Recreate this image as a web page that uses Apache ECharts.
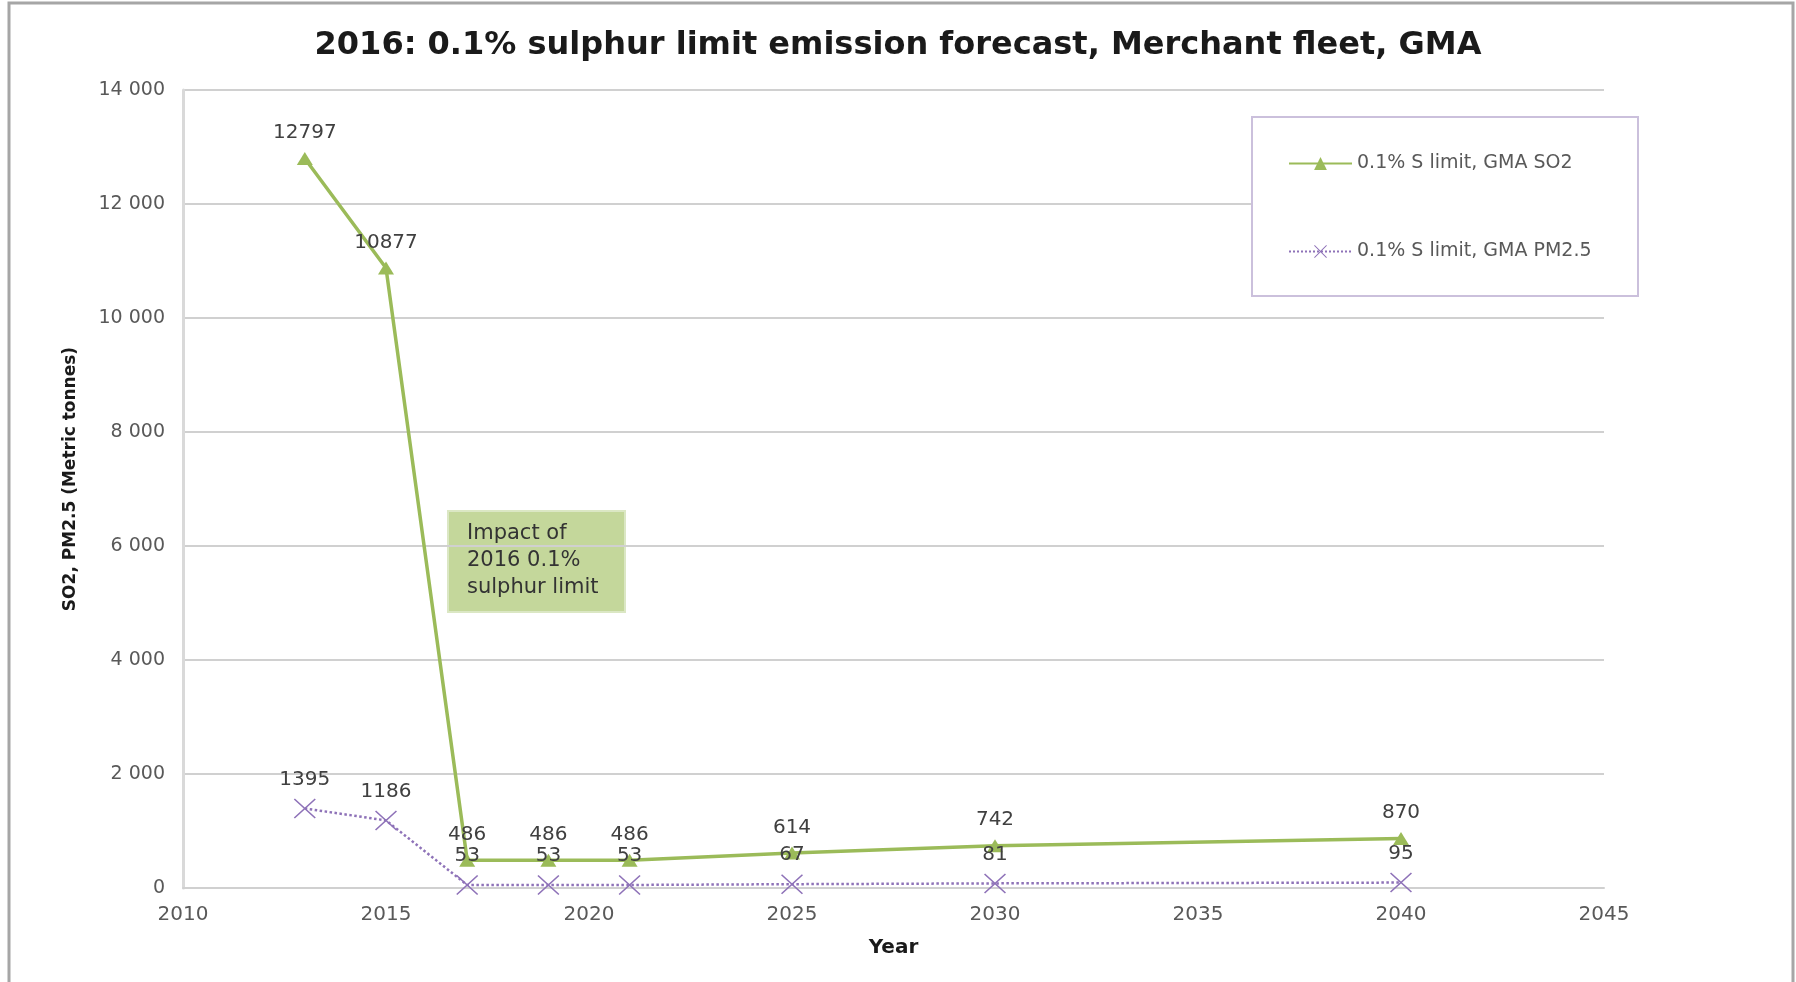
<!DOCTYPE html>
<html>
<head>
<meta charset="utf-8">
<script src="https://cdn.jsdelivr.net/npm/echarts@6/dist/echarts.min.js"></script>
<style>
  html, body { margin: 0; padding: 0; background: #fff; }
  #chart { width: 1796px; height: 982px; }
</style>
</head>
<body>
<div id="chart"></div>
<script>
const years = [2013, 2015, 2017, 2019, 2021, 2025, 2030, 2040]
const so2 = [12797, 10877, 486, 486, 486, 614, 742, 870]
const pm25 = [1395, 1186, 53, 53, 53, 67, 81, 95]
const seriesNames = ['0.1% S limit, GMA SO2', '0.1% S limit, GMA PM2.5']
const noteLines = ['Impact of', '2016 0.1%', 'sulphur limit']

const green = '#9bbb59'
const purple = '#8e72b8'
const crossPath = 'path://M1,0 L10,9 L19,0 L20,1 L11,10 L20,19 L19,20 L10,11 L1,20 L0,19 L9,10 L0,1 Z'

const toPairs = vals => years.map((y, i) => [y, vals[i]])
const spaced = v => String(v).replace(/\B(?=(\d{3})+(?!\d))/g, ' ')

const labelStyle = {
  show: true,
  position: 'top',
  distance: 9,
  color: '#404040',
  fontFamily: 'DejaVu Sans',
  fontSize: 20,
  formatter: p => p.value[1]
}

const chart = echarts.init(document.getElementById('chart'))

chart.setOption({
  animation: false,
  backgroundColor: '#fff',
  title: {
    text: '2016: 0.1% sulphur limit emission forecast, Merchant fleet, GMA',
    left: 'center',
    top: 25,
    textStyle: {
      fontFamily: 'DejaVu Sans',
      fontWeight: 'bold',
      fontSize: 32,
      color: '#1a1a1a'
    }
  },
  grid: { left: 183, right: 192, top: 90, bottom: 94 },
  legend: {
    orient: 'vertical',
    left: 1283,
    top: 149,
    itemGap: 69,
    itemWidth: 63,
    itemHeight: 16,
    textStyle: { fontFamily: 'DejaVu Sans', fontSize: 19, color: '#595959' },
    data: seriesNames
  },
  xAxis: {
    type: 'value',
    min: 2010,
    max: 2045,
    interval: 5,
    name: 'Year',
    nameLocation: 'middle',
    nameGap: 50,
    nameTextStyle: { fontFamily: 'DejaVu Sans', fontWeight: 'bold', fontSize: 20, color: '#1a1a1a' },
    axisLine: { show: true, lineStyle: { color: '#d0d0d0', width: 2 } },
    axisTick: { show: false },
    splitLine: { show: false },
    axisLabel: { color: '#595959', fontFamily: 'DejaVu Sans', fontSize: 20, margin: 17, formatter: v => String(v) }
  },
  yAxis: {
    type: 'value',
    min: 0,
    max: 14000,
    interval: 2000,
    name: 'SO2, PM2.5 (Metric tonnes)',
    nameLocation: 'middle',
    nameGap: 104,
    nameTextStyle: {
      fontFamily: 'DejaVu Sans',
      fontWeight: 'bold',
      fontSize: 17,
      color: '#1a1a1a',
      padding: [0, 0, 0, 20]
    },
    axisLine: { show: true, lineStyle: { color: '#d9d9d9', width: 3 } },
    axisTick: { show: false },
    splitLine: { lineStyle: { color: '#d0d0d0', width: 2 } },
    axisLabel: { color: '#595959', fontFamily: 'DejaVu Sans', fontSize: 19, margin: 18, formatter: spaced }
  },
  graphic: [
    {
      type: 'rect',
      z: 3,
      shape: { x: 9, y: 3, width: 1784, height: 1000 },
      style: { fill: 'none', stroke: '#a6a6a6', lineWidth: 3 }
    },
    {
      type: 'rect',
      z: 3,
      shape: { x: 1252, y: 117, width: 386, height: 179 },
      style: { fill: '#fff', stroke: '#cbc0dc', lineWidth: 2 }
    },
    {
      type: 'group',
      left: 447,
      top: 510,
      z: 5,
      children: [
        {
          type: 'rect',
          shape: { x: 0, y: 0, width: 177, height: 101 },
          style: { fill: '#c4d79b', stroke: '#dbe7c4', lineWidth: 2 }
        },
        {
          type: 'text',
          x: 19,
          y: 9,
          style: {
            text: noteLines.join('\n'),
            font: '21px DejaVu Sans',
            lineHeight: 27,
            fill: '#333'
          }
        }
      ]
    }
  ],
  series: [
    {
      name: seriesNames[0],
      type: 'line',
      data: toPairs(so2),
      symbol: 'triangle',
      symbolSize: [16, 13],
      z: 2,
      itemStyle: { color: green },
      lineStyle: { color: green, width: 3.5 },
      label: labelStyle
    },
    {
      name: seriesNames[1],
      type: 'line',
      data: toPairs(pm25),
      symbol: crossPath,
      symbolSize: [22, 20],
      z: 2,
      itemStyle: { color: purple },
      lineStyle: { color: purple, width: 2.5, type: 'dotted' },
      label: labelStyle
    }
  ]
})

window.addEventListener('resize', () => chart.resize())
</script>
</body>
</html>
